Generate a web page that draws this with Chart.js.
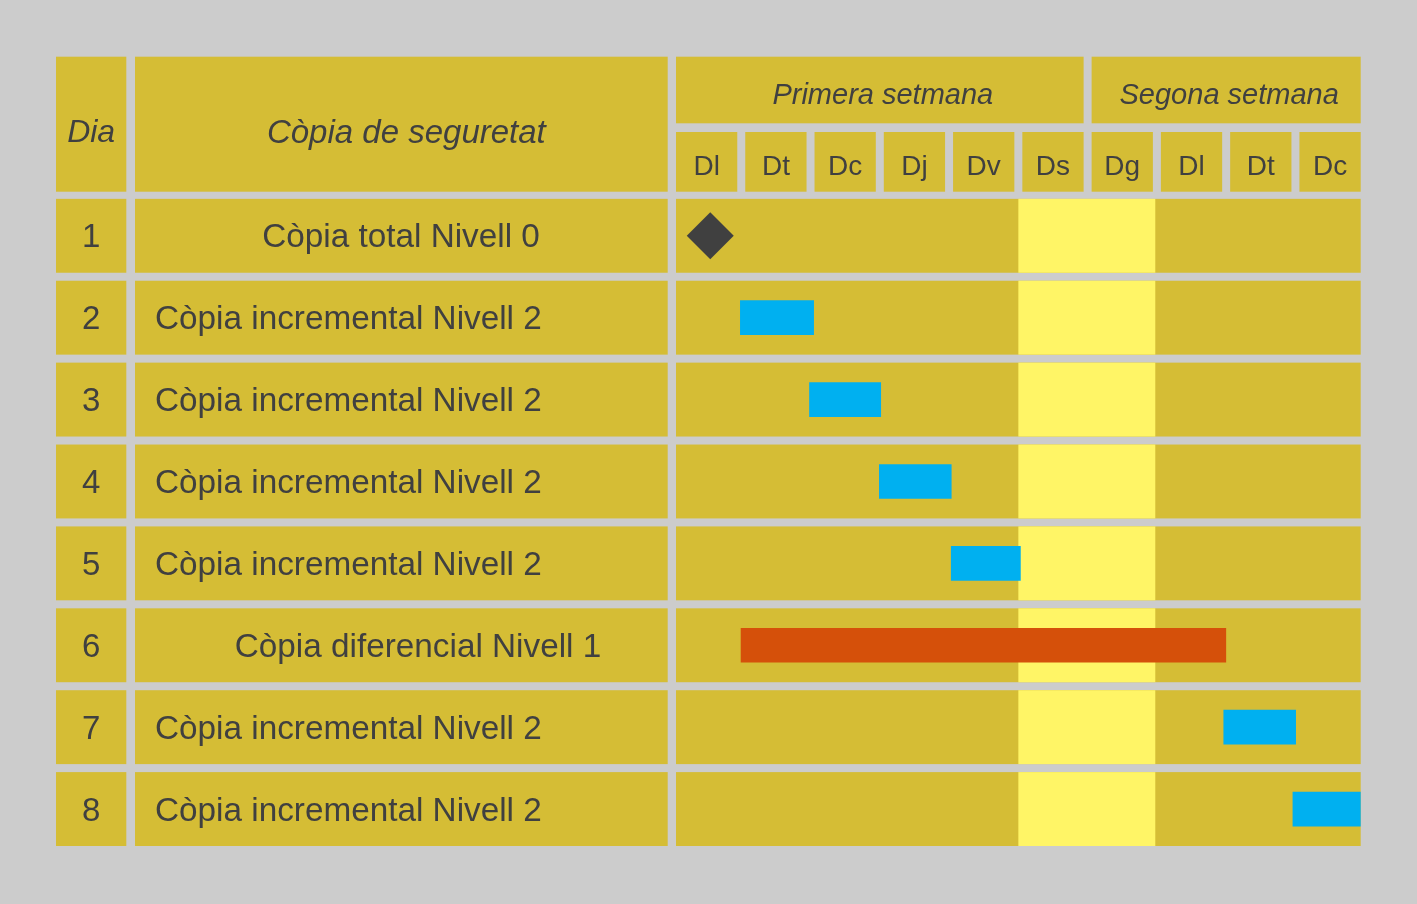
<!DOCTYPE html>
<html><head><meta charset="utf-8">
<script src="https://cdn.jsdelivr.net/npm/chart.js@4/dist/chart.umd.min.js"></script>
<style>html,body{margin:0;padding:0;background:#cccccc;}#wrap{width:1417px;height:904px;position:relative;}</style>
</head><body><div id="wrap"><canvas id="c"></canvas></div>
<script>
// ---- data ----
const rowNumbers = ['1','2','3','4','5','6','7','8'];
const tasks = ['Còpia total Nivell 0','Còpia incremental Nivell 2','Còpia incremental Nivell 2','Còpia incremental Nivell 2','Còpia incremental Nivell 2','Còpia diferencial Nivell 1','Còpia incremental Nivell 2','Còpia incremental Nivell 2'];
const taskTypes = ['total','incremental','incremental','incremental','incremental','diferencial','incremental','incremental'];
const headerDia = 'Dia';
const headerTask = 'Còpia de seguretat';
const weekLabels = ['Primera setmana','Segona setmana'];
const weekSpans = [6,4];
const dayLabels = ['Dl','Dt','Dc','Dj','Dv','Ds','Dg','Dl','Dt','Dc'];
const barStarts = [null,0.94,1.95,2.97,4.02,0.95,8.0,9.01];
const barEnds   = [null,2.01,2.99,4.02,5.03,8.03,9.05,10];
const milestones = [0.5,null,null,null,null,null,null,null];
const weekendStart = 5, weekendEnd = 7;
const totalDays = 10;

// ---- style / layout ----
const C = {bg:'#cccccc', cell:'#d5bd35', weekend:'#fff566', text:'#404040',
  incremental:'#00b0f0', diferencial:'#d5500a', total:'#404040'};
const FONT = '"Liberation Sans", Arial, sans-serif';
const colDia = [56,126.3], colTask = [135,667.7];
const hdrWeek = [56.7,123.3], hdrDay = [132,191.7], hdrAll=[56.7,191.7];
const GAP = 8;
const TEXT_DY = 2.5;
const taskAlign = [{a:'center',x:401},{a:'left',x:155},{a:'left',x:155},{a:'left',x:155},{a:'left',x:155},{a:'center',x:418},{a:'left',x:155},{a:'left',x:155}];

const tablePlugin = {
  id:'table',
  beforeDatasetsDraw(chart){
    const {ctx, chartArea:ca, scales:{x,y}} = chart;
    ctx.save();
    const rect=(x0,y0,x1,y1,c)=>{ctx.fillStyle=c;ctx.fillRect(x0,y0,x1-x0,y1-y0);};
    const txt=(s,px,py,size,italic,align)=>{ctx.fillStyle=C.text;ctx.font=(italic?'italic ':'')+size+'px '+FONT;ctx.textAlign=align||'center';ctx.textBaseline='middle';ctx.fillText(s,px,py+TEXT_DY);};
    // header
    rect(colDia[0],hdrAll[0],colDia[1],hdrAll[1],C.cell);
    rect(colTask[0],hdrAll[0],colTask[1],hdrAll[1],C.cell);
    txt(headerDia,(colDia[0]+colDia[1])/2,131,32,true);
    txt(headerTask,(colTask[0]+colTask[1])/2+5,131,33,true);
    const pitch=(ca.right-ca.left+GAP)/totalDays;
    let d=0;
    weekLabels.forEach((w,i)=>{
      const x0=ca.left+d*pitch, x1=ca.left+(d+weekSpans[i])*pitch-GAP;
      rect(x0,hdrWeek[0],x1,hdrWeek[1],C.cell);
      txt(w,(x0+x1)/2+3,93,29,true);
      d+=weekSpans[i];
    });
    dayLabels.forEach((l,i)=>{
      const x0=ca.left+i*pitch, x1=x0+pitch-GAP;
      rect(x0,hdrDay[0],x1,hdrDay[1],C.cell);
      txt(l,(x0+x1)/2,165,28,false);
    });
    // rows
    const band = y.getPixelForValue(1)-y.getPixelForValue(0);
    const h = band-GAP;
    rowNumbers.forEach((n,i)=>{
      const cy=y.getPixelForValue(i), t=cy-h/2, b=cy+h/2;
      rect(colDia[0],t,colDia[1],b,C.cell);
      rect(colTask[0],t,colTask[1],b,C.cell);
      rect(ca.left,t,ca.right,b,C.cell);
      rect(x.getPixelForValue(weekendStart),t,x.getPixelForValue(weekendEnd),b,C.weekend);
      txt(n,(colDia[0]+colDia[1])/2,cy,33,false);
      txt(tasks[i],taskAlign[i].x,cy,33.3,false,taskAlign[i].a);
    });
    ctx.restore();
  }
};

new Chart(document.getElementById('c'),{
  type:'bar',
  data:{
    labels:rowNumbers,
    datasets:[
      {type:'bar',data:rowNumbers.map((_,i)=>barStarts[i]==null?null:[barStarts[i],barEnds[i]]),
       backgroundColor:taskTypes.map(t=>C[t]),barThickness:34,borderWidth:0,borderSkipped:false,grouped:false},
      {type:'line',indexAxis:'y',data:milestones,showLine:false,pointStyle:'rectRot',pointRadius:23.5,
       pointBackgroundColor:C.total,pointBorderWidth:0,pointBorderColor:C.total,pointHoverRadius:23.5}
    ]
  },
  options:{
    indexAxis:'y',responsive:true,maintainAspectRatio:false,animation:false,
    layout:{padding:{left:676,right:56.3,top:194.85,bottom:54}},
    plugins:{legend:{display:false},tooltip:{enabled:false}},
    scales:{
      x:{type:'linear',min:0,max:totalDays,display:false},
      y:{type:'category',display:false,offset:true}
    },
    events:[]
  },
  plugins:[tablePlugin]
});
</script></body></html>
